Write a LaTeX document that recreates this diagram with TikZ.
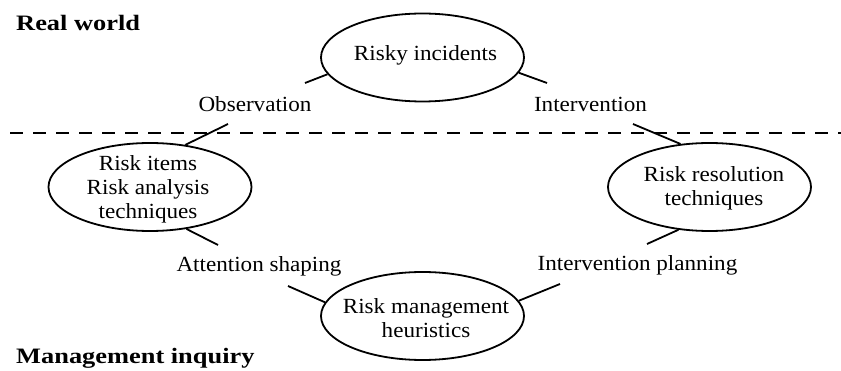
\documentclass[tikz,border=0pt]{standalone}
\usepackage{fontspec}
\setmainfont{Liberation Serif}[FakeStretch=1.07]
\newfontfamily\titlefont{Liberation Serif}[FakeStretch=1.2]
\usetikzlibrary{shapes.geometric}
\begin{document}
\begin{tikzpicture}[x=1pt,y=-1pt,
  every node/.style={font=\fontsize{21.6}{24}\selectfont, inner sep=0pt},
  oval/.style={draw, ellipse, line width=1.8pt, minimum width=203pt, minimum height=88pt, inner sep=0pt},
  conn/.style={line width=1.8pt},
  lbl/.style={anchor=base},
  ttl/.style={anchor=base west, font=\titlefont\bfseries\fontsize{22}{26}\selectfont},
  txt/.style={align=center},
  divider/.style={line width=1.2pt, dash pattern=on 13pt off 10pt}]
\useasboundingbox (0,0) rectangle (841,371);

% titles
\node[ttl] (rw) at (16,30.5) {Real world};
\node[ttl] (mi) at (16,363) {Management inquiry};

% divider
\coordinate (dl) at (10,133);
\coordinate (dr) at (841,133);
\draw[divider] (dl) -- (dr);

% ellipses
\node[oval] (ri) at (422.5,57.5) {};
\node[oval] (rit) at (150,187) {};
\node[oval] (rres) at (709.5,187) {};
\node[oval] (rmh) at (422.5,316) {};

% ellipse texts
\node[lbl] (tri) at (425.5,61) {Risky incidents};
\node[txt] (trit) at (148,189) {Risk items\\Risk analysis\\techniques};
\node[txt] (trres) at (714,188) {Risk resolution\\techniques};
\node[txt] (trmh) at (426,318) {Risk management\\heuristics};

% labels
\node[lbl] (obs) at (255,112) {Observation};
\node[lbl] (int) at (590.5,112) {Intervention};
\node[lbl] (att) at (259,272) {Attention shaping};
\node[lbl] (ipl) at (637.5,271) {Intervention planning};

% free ends of connectors
\coordinate (c1) at (305,83);
\coordinate (c2) at (228,124);
\coordinate (c3) at (547,83);
\coordinate (c4) at (633,124);
\coordinate (c5) at (218,245);
\coordinate (c6) at (288,286);
\coordinate (c7) at (560,284);
\coordinate (c8) at (647,244);

% connectors
\draw[conn] (ri.190) -- (c1);
\draw[conn] (c2) -- (rit.50);
\draw[conn] (ri.351) -- (c3);
\draw[conn] (c4) -- (rres.124);
\draw[conn] (rit.311.5) -- (c5);
\draw[conn] (c6) -- (rmh.172.5);
\draw[conn] (rmh.9.3) -- (c7);
\draw[conn] (c8) -- (rres.234.4);
\end{tikzpicture}
\end{document}
